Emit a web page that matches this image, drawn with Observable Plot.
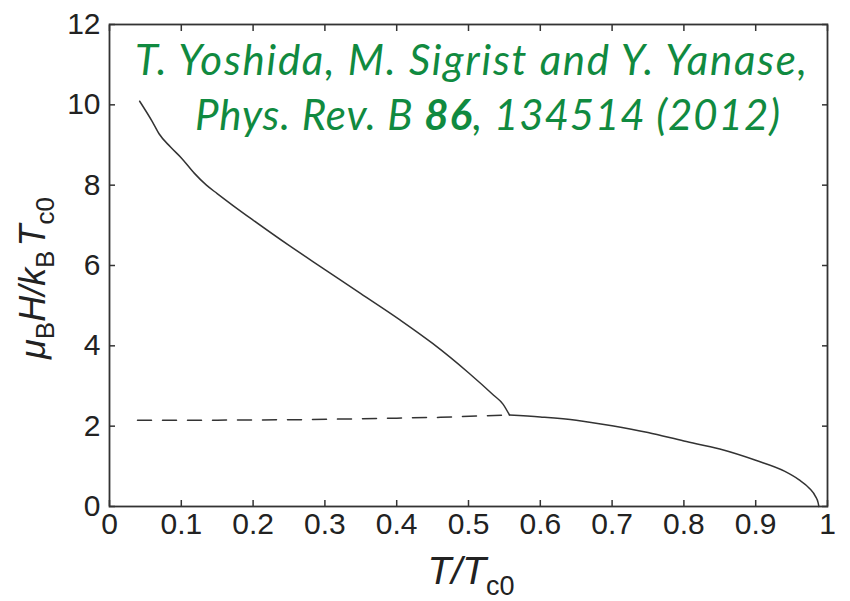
<!DOCTYPE html>
<html>
<head>
<meta charset="utf-8">
<script src="https://cdn.jsdelivr.net/npm/d3@7"></script>
<script src="https://cdn.jsdelivr.net/npm/@observablehq/plot@0.6"></script>
<style>
  html, body { margin: 0; padding: 0; background: #fff; }
  #chart svg { display: block; }
</style>
</head>
<body>
<div id="chart"></div>
<script>
// Upper critical field branch (solid), T/Tc0 vs muB H / kB Tc0
const upperT = [0.042, 0.060, 0.069, 0.085, 0.101, 0.118, 0.135, 0.150, 0.173, 0.200, 0.250, 0.300, 0.350, 0.405, 0.450, 0.500, 0.535, 0.548, 0.557];
const upperH = [10.09, 9.57, 9.28, 8.95, 8.66, 8.30, 8.00, 7.79, 7.48, 7.13, 6.50, 5.90, 5.30, 4.64, 4.06, 3.33, 2.77, 2.55, 2.28];

// High-temperature branch (solid), down to the zero-field transition
const lowerT = [0.557, 0.600, 0.650, 0.700, 0.750, 0.800, 0.850, 0.900, 0.940, 0.960, 0.975, 0.983, 0.987, 0.988];
const lowerH = [2.28, 2.23, 2.15, 2.01, 1.84, 1.63, 1.43, 1.15, 0.88, 0.67, 0.45, 0.26, 0.09, 0.0];

// Metastable continuation (dashed)
const dashT = [0.039, 0.150, 0.266, 0.400, 0.461, 0.557];
const dashH = [2.15, 2.15, 2.16, 2.20, 2.22, 2.28];

// Tick values and labels
const xTicks = [0, 0.1, 0.2, 0.3, 0.4, 0.5, 0.6, 0.7, 0.8, 0.9, 1];
const xTickLabels = ["0", "0.1", "0.2", "0.3", "0.4", "0.5", "0.6", "0.7", "0.8", "0.9", "1"];
const yTicks = [0, 2, 4, 6, 8, 10, 12];
const yTickLabels = ["0", "2", "4", "6", "8", "10", "12"];

const toRows = (ts, hs) => ts.map((t, i) => ({t, h: hs[i]}));
const upper = toRows(upperT, upperH);
const lower = toRows(lowerT, lowerH);
const dashed = toRows(dashT, dashH);

const fmtX = (d) => xTickLabels[xTicks.indexOf(d)] ?? "";
const fmtY = (d) => yTickLabels[yTicks.indexOf(d)] ?? "";
const blank = () => "";

const axisColor = "#333";
const lineColor = "#333";

const chart = Plot.plot({
  width: 850,
  height: 601,
  marginLeft: 109,
  marginRight: 23,
  marginTop: 24,
  marginBottom: 95,
  style: {fontFamily: "'Liberation Sans', Arial, Helvetica, sans-serif", background: "#fff", color: "#222"},
  x: {domain: [0, 1]},
  y: {domain: [0, 12]},
  marks: [
    Plot.axisX({ticks: xTicks, tickSize: -6, tickPadding: 12, tickFormat: fmtX, fontSize: 30, label: null, stroke: axisColor, strokeWidth: 1.5}),
    Plot.axisX({anchor: "top", ticks: xTicks, tickSize: -6, tickFormat: blank, label: null, stroke: axisColor, strokeWidth: 1.5}),
    Plot.axisY({ticks: yTicks, tickSize: -6, tickPadding: 15, tickFormat: fmtY, fontSize: 30, label: null, stroke: axisColor, strokeWidth: 1.5}),
    Plot.axisY({anchor: "right", ticks: yTicks, tickSize: -6, tickFormat: blank, label: null, stroke: axisColor, strokeWidth: 1.5}),
    Plot.line(dashed, {x: "t", y: "h", stroke: lineColor, strokeWidth: 1.5, strokeDasharray: "14,11"}),
    Plot.line(upper, {x: "t", y: "h", stroke: lineColor, strokeWidth: 1.5, curve: "monotone-x"}),
    Plot.line(lower, {x: "t", y: "h", stroke: lineColor, strokeWidth: 1.5, curve: "monotone-x"}),
    Plot.frame({stroke: axisColor, strokeWidth: 1.8})
  ]
});

document.getElementById("chart").appendChild(chart);

const svg = d3.select(chart);
const labelFont = "'Liberation Sans', Arial, Helvetica, sans-serif";

// x-axis title: T/Tc0
const xl = svg.append("text")
  .attr("x", 471).attr("y", 584)
  .attr("text-anchor", "middle")
  .attr("font-family", labelFont)
  .attr("font-size", 39)
  .attr("fill", "#222");
xl.append("tspan").attr("font-style", "italic").text("T/T");
xl.append("tspan").attr("font-size", 27).attr("dy", 11).text("c0");

// y-axis title: muB H / kB Tc0
const yl = svg.append("text")
  .attr("transform", "translate(45,278) rotate(-90)")
  .attr("text-anchor", "middle")
  .attr("font-family", labelFont)
  .attr("font-size", 36)
  .attr("fill", "#222");
yl.append("tspan").attr("font-style", "italic").text("\u03bc");
yl.append("tspan").attr("font-size", 26).attr("dy", 9).text("B");
yl.append("tspan").attr("font-style", "italic").attr("dy", -9).text("H/k");
yl.append("tspan").attr("font-size", 26).attr("dy", 9).text("B");
yl.append("tspan").attr("font-style", "italic").attr("dy", -9).attr("dx", 4).text("T");
yl.append("tspan").attr("font-size", 26).attr("dy", 9).text("c0");

// Citation
const green = "#108a40";
const citeFont = "Lato, 'Open Sans', sans-serif";
svg.append("text")
  .attr("x", 135).attr("y", 75)
  .attr("text-anchor", "start")
  .attr("font-family", citeFont)
  .attr("font-style", "italic")
  .attr("font-size", 42)
  .attr("fill", green)
  .attr("textLength", 672)
  .attr("lengthAdjust", "spacing")
  .text("T. Yoshida, M. Sigrist and Y. Yanase,");
const c2 = svg.append("text")
  .attr("x", 195).attr("y", 130)
  .attr("text-anchor", "start")
  .attr("font-family", citeFont)
  .attr("font-style", "italic")
  .attr("font-size", 42)
  .attr("fill", green)
  .attr("textLength", 585)
  .attr("lengthAdjust", "spacing");
c2.append("tspan").text("Phys. Rev. B ");
c2.append("tspan").attr("font-weight", "bold").text("86");
c2.append("tspan").text(", 134514 (2012)");
</script>
</body>
</html>
